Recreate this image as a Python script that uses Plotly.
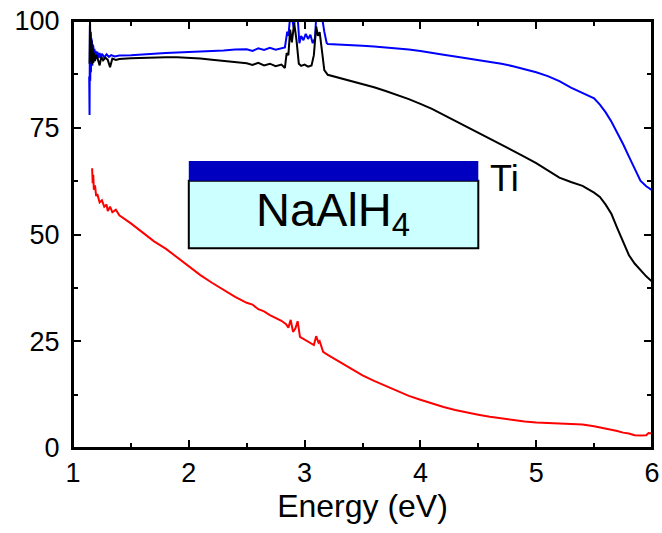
import plotly.graph_objects as go

# ---------------- data ----------------
blue_E = [1.14, 1.143, 1.146, 1.149, 1.152, 1.155, 1.158, 1.161, 1.164, 1.167, 1.17, 1.173,
          1.176, 1.18, 1.185, 1.19, 1.195, 1.2, 1.21, 1.22, 1.23, 1.24, 1.25, 1.27, 1.29,
          1.31, 1.33, 1.36, 1.4, 1.5, 1.6, 1.7, 1.8, 1.9, 2.0, 2.1, 2.2, 2.3, 2.4, 2.5,
          2.55, 2.6, 2.65, 2.7, 2.75, 2.8, 2.83, 2.85, 2.86, 2.875, 2.89, 2.905, 2.92, 2.94,
          2.955, 2.97, 2.99, 3.01, 3.03, 3.05, 3.07, 3.09, 3.1, 3.12, 3.15, 3.17, 3.19,
          3.2, 3.3, 3.4, 3.5, 3.6, 3.7, 3.8, 3.9, 4.0, 4.1, 4.2, 4.3, 4.4, 4.5, 4.6, 4.7,
          4.8, 4.9, 5.0, 5.1, 5.2, 5.3, 5.4, 5.5, 5.55, 5.6, 5.65, 5.7, 5.75, 5.8, 5.85,
          5.9, 5.95, 6.0]
blue_T = [87, 78, 99, 86, 97, 88, 96, 89, 95, 89.5, 94.5, 90,
          94, 90.5, 93.5, 91, 93, 91.2, 92.8, 91.3, 92.5, 91.4, 92.3, 91.5, 92.2,
          91.6, 92.0, 91.7, 91.9, 92.0, 92.2, 92.4, 92.5, 92.6, 92.7, 92.9, 93.0, 93.1, 93.3, 93.4,
          93.0, 93.6, 93.2, 93.7, 93.3, 93.6, 93.8, 97.5, 96.5, 101, 101, 98.5, 101, 101,
          94.8, 96.5, 95.5, 97.0, 95.8, 96.8, 94.8, 96, 101, 101, 101, 97.5, 94.9,
          94.6, 94.5, 94.4, 94.2, 94.0, 93.8, 93.6, 93.3, 93.0, 92.5, 92.1, 91.7, 91.3, 90.9, 90.5, 90.0,
          89.4, 88.7, 88.0, 87.1, 85.9, 84.4, 83.1, 81.9, 80.4, 78.6, 76.4, 73.9, 71.2, 68.3, 65.3,
          62.6, 61.3, 60.4]

black_E = [1.143, 1.147, 1.15, 1.153, 1.156, 1.16, 1.165, 1.17, 1.175, 1.18, 1.19, 1.2,
           1.215, 1.23, 1.245, 1.26, 1.28, 1.3, 1.32, 1.34, 1.37, 1.4, 1.5, 1.6, 1.7, 1.8,
           1.9, 2.0, 2.1, 2.2, 2.3, 2.4, 2.5, 2.55, 2.6, 2.65, 2.7, 2.75, 2.8, 2.83, 2.845,
           2.86, 2.875, 2.89, 2.91, 2.93, 2.95, 2.97, 3.0, 3.03, 3.06, 3.08, 3.1, 3.115,
           3.13, 3.15, 3.17, 3.2, 3.3, 3.4, 3.5, 3.6, 3.7, 3.8, 3.9, 4.0, 4.1, 4.2, 4.3,
           4.4, 4.5, 4.6, 4.7, 4.8, 4.9, 5.0, 5.1, 5.2, 5.3, 5.4, 5.5, 5.55, 5.6, 5.65,
           5.7, 5.75, 5.8, 5.85, 5.9, 5.95, 6.0]
black_T = [90, 100, 93, 97.5, 90.5, 95.5, 89.8, 93.8, 90.2, 92.6, 90.6, 92.0,
           91.0, 89.6, 91.6, 90.8, 91.4, 90.9, 89.2, 91.2, 90.9, 91.1, 91.3, 91.4, 91.5, 91.5,
           91.5, 91.4, 91.2, 90.9, 90.6, 90.3, 90.1, 89.7, 90.2, 89.6, 90.0, 89.4, 89.8, 89.0, 92.5,
           92.0, 98.0, 95.0, 99.5, 95.5, 90.0, 89.5, 89.8, 89.3, 89.6, 92.0, 98.7, 96.5,
           97.4, 93.0, 88.5, 87.4, 86.7, 86.0, 85.3, 84.5, 83.6, 82.7, 81.7, 80.6, 79.4, 78.0, 76.6,
           75.2, 73.8, 72.4, 71.1, 69.7, 68.2, 66.7, 64.9, 63.3, 62.3, 61.4, 59.8, 58.8, 57.0, 54.8,
           51.5, 48.2, 45.2, 43.2, 41.7, 40.2, 39.0]

red_E = [1.165, 1.17, 1.175, 1.18, 1.19, 1.2, 1.21, 1.23, 1.25, 1.27, 1.29, 1.3, 1.32,
         1.34, 1.37, 1.4, 1.5, 1.6, 1.7, 1.8, 1.9, 2.0, 2.1, 2.2, 2.3, 2.4, 2.5, 2.55, 2.6,
         2.65, 2.7, 2.75, 2.8, 2.84, 2.86, 2.88, 2.9, 2.92, 2.94, 2.96, 3.0, 3.05, 3.08,
         3.1, 3.12, 3.13, 3.16, 3.2, 3.3, 3.4, 3.5, 3.6, 3.7, 3.8, 3.9, 4.0, 4.1, 4.2,
         4.3, 4.4, 4.5, 4.6, 4.7, 4.8, 4.9, 5.0, 5.1, 5.2, 5.3, 5.4, 5.5, 5.6, 5.65, 5.7,
         5.75, 5.8, 5.85, 5.9, 5.95, 5.97, 6.0]
red_T = [65.5, 62, 64, 60.5, 61.5, 59, 59.5, 57.5, 58, 56.5, 57, 55.5, 56.5,
         55.2, 55.8, 54.5, 52.6, 50.5, 48.4, 46.7, 44.6, 42.6, 40.5, 38.7, 37.0, 35.4, 34.0, 33.6, 32.5,
         32.0, 31.1, 30.4, 29.8, 29.0, 28.2, 30.0, 27.2, 28.0, 29.7, 26.0, 25.3, 24.5, 24.1,
         26.2, 24.7, 25.0, 22.5, 21.8, 20.2, 18.6, 17.0, 15.7, 14.5, 13.3, 12.2, 11.3, 10.4, 9.6,
         8.9, 8.3, 7.8, 7.3, 6.9, 6.5, 6.2, 6.0, 5.9, 5.8, 5.7, 5.5, 5.1, 4.6, 4.2, 4.0,
         3.6, 3.4, 3.0, 2.9, 3.0, 3.5, 3.4]

x_ticks = [1, 2, 3, 4, 5, 6]
y_ticks = [0, 25, 50, 75, 100]
x_range = [1, 6]
y_range = [0, 100]

FONT = "Liberation Sans, Arial, Helvetica, sans-serif"

fig = go.Figure()
fig.add_trace(go.Scatter(x=blue_E, y=blue_T, mode="lines",
                         line=dict(color="#0000ff", width=2), showlegend=False))
fig.add_trace(go.Scatter(x=black_E, y=black_T, mode="lines",
                         line=dict(color="#000000", width=2), showlegend=False))
fig.add_trace(go.Scatter(x=red_E, y=red_T, mode="lines",
                         line=dict(color="#ff0000", width=2), showlegend=False))
# empty helper trace so the top/right tick axes are drawn
fig.add_trace(go.Scatter(x=[None], y=[None], xaxis="x2", yaxis="y2", mode="lines",
                         showlegend=False, hoverinfo="skip"))

# inset sketch of the sample: Ti layer on NaAlH4
fig.add_shape(type="rect", xref="x", yref="y", x0=2.0, x1=4.5, y0=46.8, y1=62.6,
              fillcolor="#ccffff", line=dict(color="#000000", width=2), layer="above")
fig.add_shape(type="rect", xref="x", yref="y", x0=2.0, x1=4.5, y0=62.6, y1=67.2,
              fillcolor="#0000c0", line=dict(width=0), layer="above")
# plot frame
fig.add_shape(type="rect", xref="paper", yref="paper", x0=0, x1=1, y0=0, y1=1,
              line=dict(color="black", width=2), fillcolor="rgba(0,0,0,0)", layer="above")
fig.add_annotation(x=3.245, y=55.1, xref="x", yref="y", text="NaAlH<sub>4</sub>",
                   showarrow=False, font=dict(family=FONT, size=47, color="black"))
fig.add_annotation(x=4.58, y=63.0, xref="x", yref="y", text="Ti", xanchor="left",
                   showarrow=False, font=dict(family=FONT, size=36, color="black"))

axis_common = dict(showgrid=False, zeroline=False, showline=True, linecolor="black",
                   linewidth=2, ticks="inside", ticklen=8, tickwidth=2,
                   tickcolor="black", automargin=False, ticklabeloverflow="allow",
                   tickfont=dict(family=FONT, size=27, color="black"))
xminor = dict(ticks="inside", ticklen=5, tickwidth=2, tickcolor="black", dtick=0.5, tick0=1)
yminor = dict(ticks="inside", ticklen=5, tickwidth=2, tickcolor="black", dtick=12.5, tick0=0)

fig.update_layout(
    xaxis=dict(range=x_range, tickvals=x_ticks, ticktext=[str(v) for v in x_ticks], minor=xminor,
               title=dict(text="Energy (eV)", font=dict(family=FONT, size=32, color="black"), standoff=7),
               **axis_common),
    yaxis=dict(range=y_range, tickvals=y_ticks, ticktext=[str(v) for v in y_ticks], minor=yminor,
               ticklabelstandoff=6, **axis_common),
    xaxis2=dict(range=x_range, tickvals=x_ticks, minor=xminor, overlaying="x", side="top",
                anchor="y", showticklabels=False, **axis_common),
    yaxis2=dict(range=y_range, tickvals=y_ticks, minor=yminor, overlaying="y", side="right",
                anchor="x", showticklabels=False, **axis_common),
    width=662, height=533, margin=dict(l=73, r=10, t=21, b=85),
    plot_bgcolor="white", paper_bgcolor="white")

# remove the default 8px page margin so the figure sits at the window's corner
fig.write_html("out.html", config={"displayModeBar": False},
               post_script="document.body.style.margin='0';document.body.style.overflow='hidden';")
